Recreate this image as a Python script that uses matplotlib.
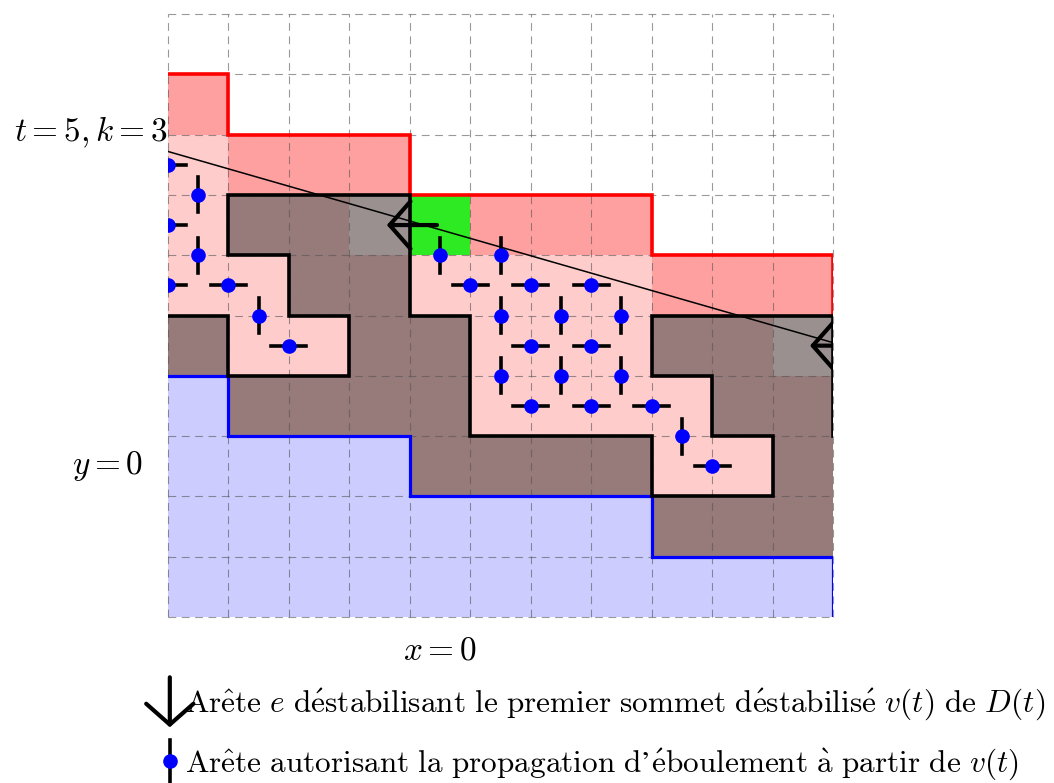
import matplotlib.pyplot as plt
from matplotlib.patches import Rectangle, FancyArrowPatch

plt.rcParams['mathtext.fontset'] = 'cm'
plt.rcParams['font.family'] = ['STIXGeneral', 'DejaVu Serif']

# grid size
n_cols = 11
n_rows = 10

# column heights of the two stair boundaries
blue_top = [4, 3, 3, 3, 2, 2, 2, 2, 1, 1, 1]
red_top = [9, 8, 8, 8, 7, 7, 7, 7, 6, 6, 6]

# special cells (column, row)
brown_cells = [(0, 4), (1, 6), (1, 3), (2, 6), (2, 5), (2, 3), (3, 5), (3, 4), (3, 3),
               (4, 4), (4, 3), (4, 2), (5, 2), (6, 2), (7, 2), (8, 4), (8, 1),
               (9, 4), (9, 3), (9, 1), (10, 3), (10, 2), (10, 1)]
gray_cells = [(3, 6), (10, 4)]
green_cells = [(4, 6)]

# black outline of the pile
pile_x = [0, 1, 1, 3, 3, 2, 2, 1, 1, 4, 4, 5, 5, 8, 8, 10, 10, 9, 9, 8, 8, 11, 11]
pile_y = [5, 5, 4, 4, 5, 5, 6, 6, 7, 7, 5, 5, 3, 3, 2, 2, 3, 3, 4, 4, 5, 5, 3]

# edges allowing propagation (dot position)
h_edges = [(0, 7.5), (0, 6.5), (0, 5.5), (1, 5.5), (2, 4.5), (5, 5.5), (6, 5.5), (7, 5.5),
           (6, 4.5), (7, 4.5), (6, 3.5), (7, 3.5), (8, 3.5), (9, 2.5)]
v_edges = [(0.5, 7), (0.5, 6), (1.5, 5), (4.5, 6), (5.5, 6), (5.5, 5), (6.5, 5), (7.5, 5),
           (5.5, 4), (6.5, 4), (7.5, 4), (8.5, 3)]

# destabilising edges
arrow_start = [(4.45, 6.5), (11.4, 4.5)]
arrow_end = [(3.62, 6.5), (10.62, 4.5)]

# slope line
line_x = [0, 11]
line_y = [7.72, 4.55]

legend_1 = (r'$\mathrm{Ar\^ete}\ e\ \mathrm{d\'estabilisant\ le\ premier\ sommet\ '
            r'd\'estabilis\'e}\ v(t)\ \mathrm{de}\ D(t)$')
legend_2 = (r'$\mathrm{Ar\^ete\ autorisant\ la\ propagation\ d}$’'
            r'$\mathrm{\'eboulement\ \`a\ partir\ de}\ v(t)$')

c_pink = '#ffcccc'
c_red = '#ffa0a0'
c_blue = '#ccccff'
c_brown = '#977a7a'
c_gray = '#9a9090'
c_green = '#2eea22'

fig = plt.figure(figsize=(10.54, 7.83), dpi=100)
ax = fig.add_axes([168 / 1054, 166 / 783, 665 / 1054, 603 / 783])
ax.set_xlim(0, n_cols)
ax.set_ylim(0, n_rows)
ax.axis('off')


def cell(c, r, color):
    ax.add_patch(Rectangle((c, r), 1, 1, facecolor=color, edgecolor='none', zorder=1))


for i in range(n_cols):
    ax.add_patch(Rectangle((i, 0), 1, blue_top[i], facecolor=c_blue, edgecolor='none', zorder=1))
    ax.add_patch(Rectangle((i, blue_top[i]), 1, red_top[i] - 1 - blue_top[i],
                           facecolor=c_pink, edgecolor='none', zorder=1))
    cell(i, red_top[i] - 1, c_red)

for c, r in brown_cells:
    cell(c, r, c_brown)
for c, r in gray_cells:
    cell(c, r, c_gray)
for c, r in green_cells:
    cell(c, r, c_green)

# dashed grid
for i in range(n_cols + 1):
    ax.plot([i, i], [0, n_rows], ls=(0, (7, 5)), color='#555555', lw=0.8, alpha=0.6,
            zorder=2, clip_on=False)
for j in range(n_rows + 1):
    ax.plot([0, n_cols], [j, j], ls=(0, (7, 5)), color='#555555', lw=0.8, alpha=0.6,
            zorder=2, clip_on=False)


def step_path(tops, end_y):
    xs, ys = [], []
    for i, t in enumerate(tops):
        xs += [i, i + 1]
        ys += [t, t]
    xs.append(len(tops))
    ys.append(end_y)
    return xs, ys


rx, ry = step_path(red_top, red_top[-1] - 1)
ax.plot(rx, ry, color='red', lw=2.6, zorder=3, solid_joinstyle='miter')
bx, by = step_path(blue_top, 0)
ax.plot(bx, by, color='blue', lw=2.3, zorder=3, solid_joinstyle='miter')
ax.plot(pile_x, pile_y, color='black', lw=2.6, zorder=4, solid_joinstyle='miter')

seg = 0.29
for x, y in h_edges:
    ax.plot([x - seg, x + seg], [y, y], color='black', lw=2.6, zorder=5)
    ax.plot(x, y, 'o', color='blue', ms=9.5, zorder=6)
for x, y in v_edges:
    ax.plot([x, x], [y - seg, y + seg], color='black', lw=2.6, zorder=5)
    ax.plot(x, y, 'o', color='blue', ms=9.5, zorder=6)

ax.plot(line_x, line_y, color='black', lw=1.1, zorder=7)

head = '->,head_length=15,head_width=17'
for p0, p1 in zip(arrow_start, arrow_end):
    ax.add_patch(FancyArrowPatch(p0, p1, arrowstyle=head, mutation_scale=1, lw=3,
                                 color='black', zorder=8, shrinkA=0, shrinkB=0,
                                 capstyle='round', joinstyle='round'))

fs = 24
ax.text(0, 7.88, r'$t=5,k=3$', ha='right', va='baseline', fontsize=fs)
ax.text(-0.41, 2.37, r'$y=0$', ha='right', va='baseline', fontsize=fs)
ax.text(4.5, -0.71, r'$x=0$', ha='center', va='baseline', fontsize=fs)

# legend
fs_leg = 22.5
ax.add_patch(FancyArrowPatch((0.03, -1.0), (0.03, -1.83), arrowstyle=head, mutation_scale=1,
                             lw=3, color='black', clip_on=False, shrinkA=0, shrinkB=0,
                             capstyle='round', joinstyle='round'))
ax.text(0.28, -1.575, legend_1, ha='left', va='baseline', fontsize=fs_leg)
ax.plot([0.03, 0.03], [-2.04, -2.76], color='black', lw=2.6, clip_on=False)
ax.plot(0.03, -2.39, 'o', color='blue', ms=9.5, clip_on=False)
ax.text(0.28, -2.57, legend_2, ha='left', va='baseline', fontsize=fs_leg)

fig.savefig('out.png', dpi=100)
